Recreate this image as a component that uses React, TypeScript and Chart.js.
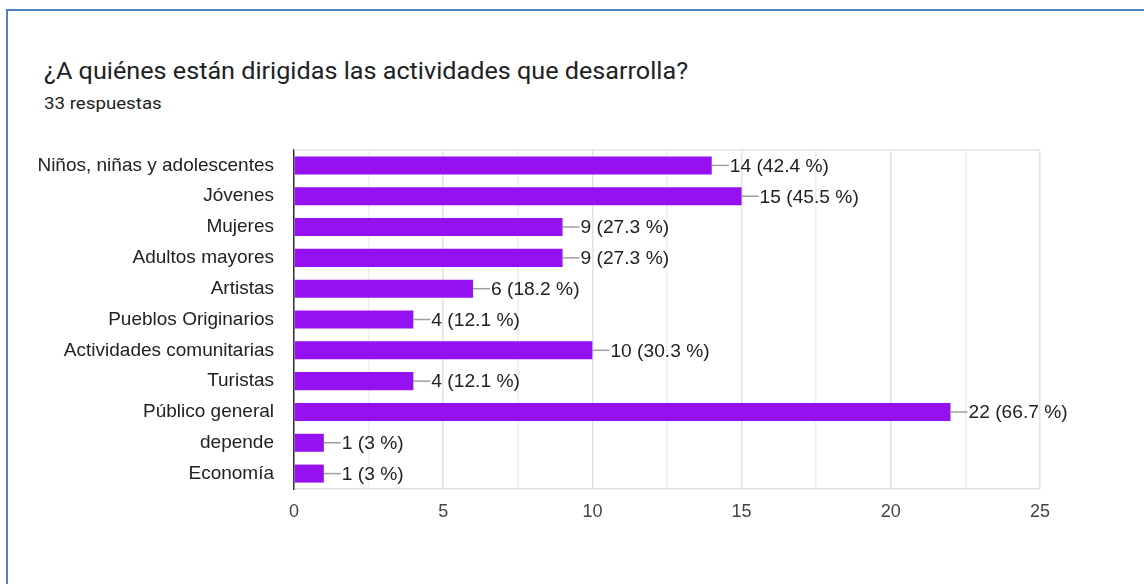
import React, { useEffect, useRef } from "react";
import { Chart, registerables } from "chart.js";

Chart.register(...registerables);

const title = "¿A quiénes están dirigidas las actividades que desarrolla?";
const subtitle = "33 respuestas";

const categories = [
  "Niños, niñas y adolescentes",
  "Jóvenes",
  "Mujeres",
  "Adultos mayores",
  "Artistas",
  "Pueblos Originarios",
  "Actividades comunitarias",
  "Turistas",
  "Público general",
  "depende",
  "Economía",
];
const counts = [14, 15, 9, 9, 6, 4, 10, 4, 22, 1, 1];
const percents = ["42.4", "45.5", "27.3", "27.3", "18.2", "12.1", "30.3", "12.1", "66.7", "3", "3"];
const xMax = 25;

const LABEL_FONT = '"Liberation Sans", Arial, sans-serif';

const valueLabels = {
  id: "valueLabels",
  afterDatasetsDraw(chart: any) {
    const ctx = chart.ctx;
    const meta = chart.getDatasetMeta(0);
    ctx.save();
    meta.data.forEach((bar: any, i: number) => {
      const x = bar.x;
      const y = bar.y;
      ctx.strokeStyle = "#9e9e9e";
      ctx.lineWidth = 1.5;
      ctx.beginPath();
      ctx.moveTo(x, y);
      ctx.lineTo(x + 17, y);
      ctx.stroke();
      ctx.fillStyle = "#222222";
      ctx.font = "19.2px " + LABEL_FONT;
      ctx.textBaseline = "middle";
      ctx.textAlign = "left";
      ctx.fillText(`${counts[i]} (${percents[i]} %)`, x + 18, y + 1);
    });
    ctx.restore();
  },
};

const topFrame = {
  id: "topFrame",
  beforeDatasetsDraw(chart: any) {
    const { ctx, chartArea } = chart;
    ctx.save();
    ctx.strokeStyle = "#e6e6e6";
    ctx.lineWidth = 1.5;
    ctx.beginPath();
    ctx.moveTo(chartArea.left, chartArea.top);
    ctx.lineTo(chartArea.right, chartArea.top);
    ctx.stroke();
    ctx.restore();
  },
};

export default function App() {
  const canvasRef = useRef<HTMLCanvasElement | null>(null);

  useEffect(() => {
    if (!canvasRef.current) return;
    const chart = new Chart(canvasRef.current, {
      type: "bar",
      data: {
        labels: categories,
        datasets: [
          {
            data: counts,
            backgroundColor: "#9511f2",
            borderWidth: 0,
            categoryPercentage: 1,
            barPercentage: 0.585,
          },
        ],
      },
      options: {
        indexAxis: "y",
        animation: false,
        responsive: false,
        devicePixelRatio: 1,
        layout: { padding: { top: 150, right: 104, left: 0, bottom: 0 } },
        plugins: {
          legend: { display: false },
          tooltip: { enabled: false },
        },
        scales: {
          x: {
            min: 0,
            max: xMax,
            ticks: {
              stepSize: 2.5,
              autoSkip: false,
              maxRotation: 0,
              padding: 12,
              color: "#444444",
              font: { family: LABEL_FONT, size: 18 },
              callback: (v: any) => (Number(v) % 5 === 0 ? String(v) : ""),
            },
            grid: {
              drawTicks: false,
              color: (c: any) => (c.tick && c.tick.value % 5 === 0 ? "#e3e3e3" : "#efefef"),
              lineWidth: 1.5,
            },
            border: { display: true, color: "#e3e3e3", width: 1.5 },
            afterFit: (scale: any) => {
              scale.height = 95;
            },
          },
          y: {
            ticks: {
              padding: 20,
              color: "#222222",
              font: { family: LABEL_FONT, size: 19 },
              autoSkip: false,
            },
            grid: { display: false, drawTicks: false },
            border: { display: true, color: "#333333", width: 1.5 },
            afterFit: (scale: any) => {
              scale.width = 294;
            },
          },
        },
      },
      plugins: [topFrame, valueLabels],
    });
    return () => chart.destroy();
  }, []);

  return (
    <div
      style={{
        position: "fixed",
        left: 0,
        top: 0,
        width: 1144,
        height: 584,
        overflow: "hidden",
        background: "#ffffff",
      }}
    >
      <div
        style={{
          position: "absolute",
          left: 6,
          top: 9,
          width: 1200,
          height: 700,
          border: "2px solid #4f81c4",
          boxSizing: "border-box",
        }}
      />
      <div
        style={{
          position: "absolute",
          left: 44,
          top: 59,
          fontFamily: "Roboto, sans-serif",
          fontSize: 23,
          lineHeight: "26px",
          color: "#202124",
          whiteSpace: "nowrap",
          transform: "scaleX(1.095)",
          transformOrigin: "left center",
        }}
      >
        {title}
      </div>
      <div
        style={{
          position: "absolute",
          left: 44,
          top: 93,
          fontFamily: "Roboto, sans-serif",
          fontSize: 17,
          lineHeight: "20px",
          color: "#202124",
          whiteSpace: "nowrap",
          transform: "scaleX(1.1)",
          transformOrigin: "left center",
        }}
      >
        {subtitle}
      </div>
      <canvas
        ref={canvasRef}
        width={1144}
        height={584}
        style={{ position: "absolute", left: 0, top: 0, width: 1144, height: 584 }}
      />
    </div>
  );
}
